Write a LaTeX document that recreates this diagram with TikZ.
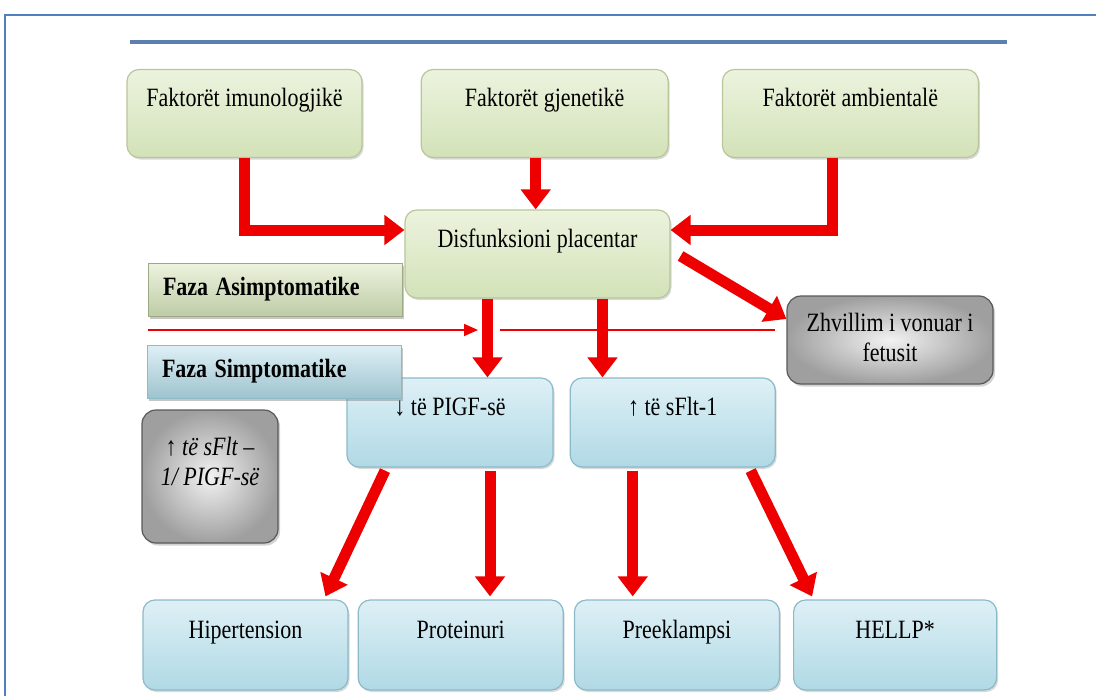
\documentclass[tikz,border=0pt]{standalone}
\usepackage{fontspec}
\usepackage{graphicx}
\setmainfont{Liberation Serif}
\usetikzlibrary{positioning, arrows.meta, shadows}
\definecolor{frameblue}{RGB}{79,129,189}
\definecolor{rulerblue}{RGB}{91,127,176}
\definecolor{grtop}{RGB}{236,243,222}
\definecolor{grbot}{RGB}{211,226,184}
\definecolor{grline}{RGB}{185,198,155}
\definecolor{bltop}{RGB}{222,240,246}
\definecolor{blbot}{RGB}{176,217,229}
\definecolor{blline}{RGB}{140,186,200}
\definecolor{arrred}{RGB}{238,0,0}
\newcommand{\tall}[1]{\scalebox{1}[1.2]{#1}}
\tikzset{
  box/.style={rounded corners=12pt, line width=1.2pt,
    font=\fontsize{22}{25}\selectfont, text height=20pt, text depth=34pt,
    drop shadow={opacity=0.3, shadow xshift=1.5pt, shadow yshift=-2pt}},
  greenbox/.style={box, draw=grline, top color=grtop, middle color=white!85!grtop, bottom color=grbot},
  bluebox/.style={box, draw=blline, top color=bltop, middle color=white!75!bltop, bottom color=blbot},
  graybox/.style={rounded corners=14pt, draw=gray!70!black, line width=1.2pt,
    inner color=gray!10, outer color=gray!75, align=center,
    font=\fontsize{22}{25}\selectfont,
    drop shadow={opacity=0.35, shadow xshift=2pt, shadow yshift=-2.5pt}},
  phase/.style={line width=1pt, minimum height=53pt, text width=224pt, inner xsep=15pt,
    align=left, font=\bfseries\fontsize{22}{25}\selectfont,
    drop shadow={opacity=0.45, shadow xshift=2pt, shadow yshift=-2.5pt}},
  bigarrow/.style={draw=arrred, line width=11pt, -{Triangle[length=20pt,width=29pt]}},
  thinline/.style={draw=arrred, line width=1.8pt},
}

\begin{document}
\begin{tikzpicture}[x=1pt, y=-1pt]
  \useasboundingbox (0,0) rectangle (1096,696);
  % frame and top rule
  \draw[frameblue, line width=2pt] (5,696) -- (5,15) -- (1096,15);
  \draw[rulerblue, line width=4pt] (130,42) -- (1007,42);

  % causes
  \node[greenbox, minimum width=235pt, minimum height=88pt] (imun) at (244.5,113.5) {\tall{Faktorët imunologjikë}};
  \node[greenbox, minimum width=247pt, minimum height=88pt, right=58pt of imun] (gjen) {\tall{Faktorët gjenetikë}};
  \node[greenbox, minimum width=256pt, minimum height=88pt, right=53pt of gjen] (amb) {\tall{Faktorët ambientalë}};
  \node[greenbox, minimum width=265pt, minimum height=88pt] (disf) at (537.5,254) {\tall{Disfunksioni placentar}};

  % phases
  \node[phase, draw=grline!85!black, top color=grtop, bottom color=grbot!90!black] (asim) at (275,289.5) {\tall{Faza Asimptomatike}};

  % markers
  \node[bluebox, minimum width=206pt, minimum height=89pt] (plgf) at (450,422.5) {\tall{↓ të PIGF-së}};
  \node[bluebox, minimum width=205pt, minimum height=89pt, right=16pt of plgf] (sflt) {\tall{↑ të sFlt-1}};
  \node[phase, draw=blline, top color=bltop, bottom color=blbot!90!black] (simp) at (274,371.5) {\tall{Faza Simptomatike}};

  \node[graybox, minimum width=206pt, minimum height=88pt] (zhv) at (890,340) {\tall{\begin{tabular}{@{}c@{}}Zhvillim i vonuar i\\ fetusit\end{tabular}}};
  \node[graybox, minimum width=136pt, minimum height=133pt] (ratio) at (210,476.5) {\raisebox{6pt}[0pt][0pt]{\tall{\begin{tabular}{@{}c@{}}{\upshape ↑} \itshape të sFlt –\\ \itshape 1/ PIGF-së\end{tabular}}}};

  % outcomes
  \node[bluebox, minimum width=205pt, minimum height=90pt] (hip) at (245.5,645) {\tall{Hipertension}};
  \node[bluebox, minimum width=205pt, minimum height=90pt, right=9pt of hip] (prot) {\tall{Proteinuri}};
  \node[bluebox, minimum width=205pt, minimum height=90pt, right=10pt of prot] (pre) {\tall{Preeklampsi}};
  \node[bluebox, minimum width=203pt, minimum height=90pt, right=13pt of pre] (hellp) {\tall{HELLP*}};

  % phase divider
  \coordinate (divA) at (148,330);
  \coordinate (divB) at (478,330);
  \coordinate (divC) at (500,330);
  \coordinate (divD) at (775,330);
  \draw[thinline, -{Triangle[length=14pt,width=12pt]}] (divA) -- (divB);
  \draw[thinline] (divC) -- (divD);

  % arrows
  \draw[bigarrow] (imun.south) |- ([yshift=24pt]disf.west);
  \draw[bigarrow] ([xshift=-9pt]gjen.south) -- ([xshift=-9pt]gjen.south |- disf.north);
  \draw[bigarrow] ([xshift=-18pt]amb.south) |- ([yshift=24pt]disf.east);
  \draw[bigarrow] ([xshift=10pt,yshift=-2pt]disf.east) -- ([yshift=21pt]zhv.west);
  \draw[bigarrow] ([xshift=-50pt]disf.south) -- ([xshift=-50pt]disf.south |- plgf.north);
  \draw[bigarrow] ([xshift=65pt]disf.south) -- ([xshift=65pt]disf.south |- sflt.north);
  \draw[bigarrow] ([xshift=-65pt,yshift=-3pt]plgf.south) -- ([xshift=80pt,yshift=3pt]hip.north);
  \draw[bigarrow] ([xshift=40pt,yshift=-3pt]plgf.south) -- ([xshift=40pt,yshift=3pt]plgf.south |- prot.north);
  \draw[bigarrow] ([xshift=-40pt,yshift=-3pt]sflt.south) -- ([xshift=-40pt,yshift=3pt]sflt.south |- pre.north);
  \draw[bigarrow] ([xshift=78pt,yshift=-3pt]sflt.south) -- ([xshift=-83pt,yshift=3pt]hellp.north);
\end{tikzpicture}
\end{document}
